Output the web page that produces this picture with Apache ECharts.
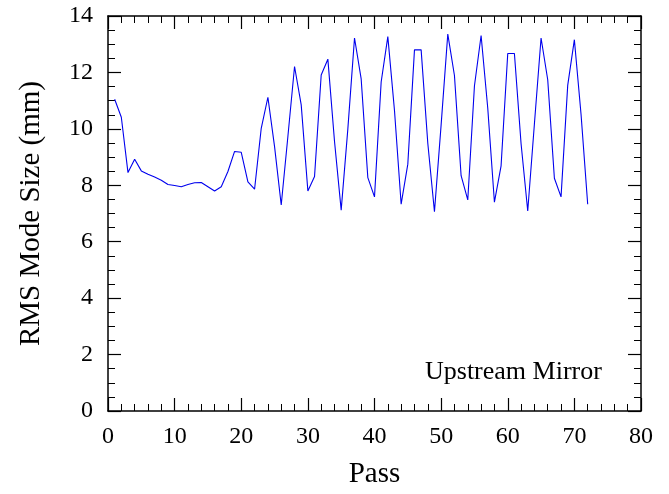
<!DOCTYPE html>
<html>
<head>
<meta charset="utf-8">
<script src="https://cdn.jsdelivr.net/npm/echarts@6/dist/echarts.min.js"></script>
<style>
html,body{margin:0;padding:0;background:#fff;}
#chart{width:669px;height:494px;}
</style>
</head>
<body>
<div id="chart"></div>
<script>
const passes = [];
for (let i = 1; i <= 72; i++) passes.push(i);
const rmsSize = [
  11.05, 10.41, 8.45, 8.92, 8.51, 8.39, 8.29, 8.18, 8.03, 7.99,
  7.95, 8.03, 8.09, 8.10, 7.95, 7.80, 7.95, 8.49, 9.20, 9.17,
  8.12, 7.86, 10.02, 11.12, 9.37, 7.30, 9.73, 12.21, 10.85, 7.80,
  8.31, 11.91, 12.47, 9.55, 7.12, 10.00, 13.22, 11.77, 8.27, 7.59,
  11.66, 13.27, 10.65, 7.33, 8.75, 12.80, 12.80, 9.49, 7.06, 10.14,
  13.36, 11.89, 8.34, 7.48, 11.52, 13.31, 10.73, 7.40, 8.69, 12.67,
  12.67, 9.47, 7.09, 10.17, 13.22, 11.74, 8.25, 7.59, 11.54, 13.16,
  10.52, 7.33
];
const xTitle = 'Pass';
const yTitle = 'RMS Mode Size (mm)';
const annotation = 'Upstream Mirror';

const font = 'Liberation Serif, Times New Roman, serif';
const chart = echarts.init(document.getElementById('chart'));
const axisLine = {show: true, onZero: false, lineStyle: {color: '#000', width: 1.5}};
const baseX = {
  type: 'value', min: 0, max: 80, interval: 10,
  axisLine: axisLine,
  axisTick: {show: true, inside: true, length: 13, lineStyle: {color: '#000', width: 1.2}},
  minorTick: {show: true, splitNumber: 5, length: 7, lineStyle: {color: '#000', width: 1}},
  splitLine: {show: false}, minorSplitLine: {show: false}
};
const baseY = {
  type: 'value', min: 0, max: 14, interval: 2,
  axisLine: axisLine,
  axisTick: {show: true, inside: true, length: 13, lineStyle: {color: '#000', width: 1.2}},
  minorTick: {show: true, splitNumber: 4, length: 7, lineStyle: {color: '#000', width: 1}},
  splitLine: {show: false}, minorSplitLine: {show: false}
};
chart.setOption({
  backgroundColor: '#fff',
  animation: false,
  grid: {left: 108, right: 28, top: 16, bottom: 83},
  xAxis: [
    Object.assign({}, baseX, {
      position: 'bottom',
      axisLabel: {color: '#000', fontFamily: font, fontSize: 24, margin: 14},
      name: xTitle, nameLocation: 'middle', nameGap: 49,
      nameTextStyle: {color: '#000', fontFamily: font, fontSize: 29}
    }),
    Object.assign({}, baseX, {position: 'top', axisLabel: {show: false}})
  ],
  yAxis: [
    Object.assign({}, baseY, {
      position: 'left',
      axisLabel: {color: '#000', fontFamily: font, fontSize: 24, margin: 15},
      name: yTitle, nameLocation: 'middle', nameGap: 62,
      nameTextStyle: {color: '#000', fontFamily: font, fontSize: 29}
    }),
    Object.assign({}, baseY, {position: 'right', axisLabel: {show: false}})
  ],
  series: [{
    type: 'line',
    data: passes.map((p, i) => [p, rmsSize[i]]),
    xAxisIndex: 0, yAxisIndex: 0,
    showSymbol: false,
    lineStyle: {color: '#0000ee', width: 1.1}
  }],
  graphic: [{
    type: 'text', left: 425, top: 359,
    style: {text: annotation, fill: '#000', font: '26px ' + font}
  }]
});
</script>
</body>
</html>
